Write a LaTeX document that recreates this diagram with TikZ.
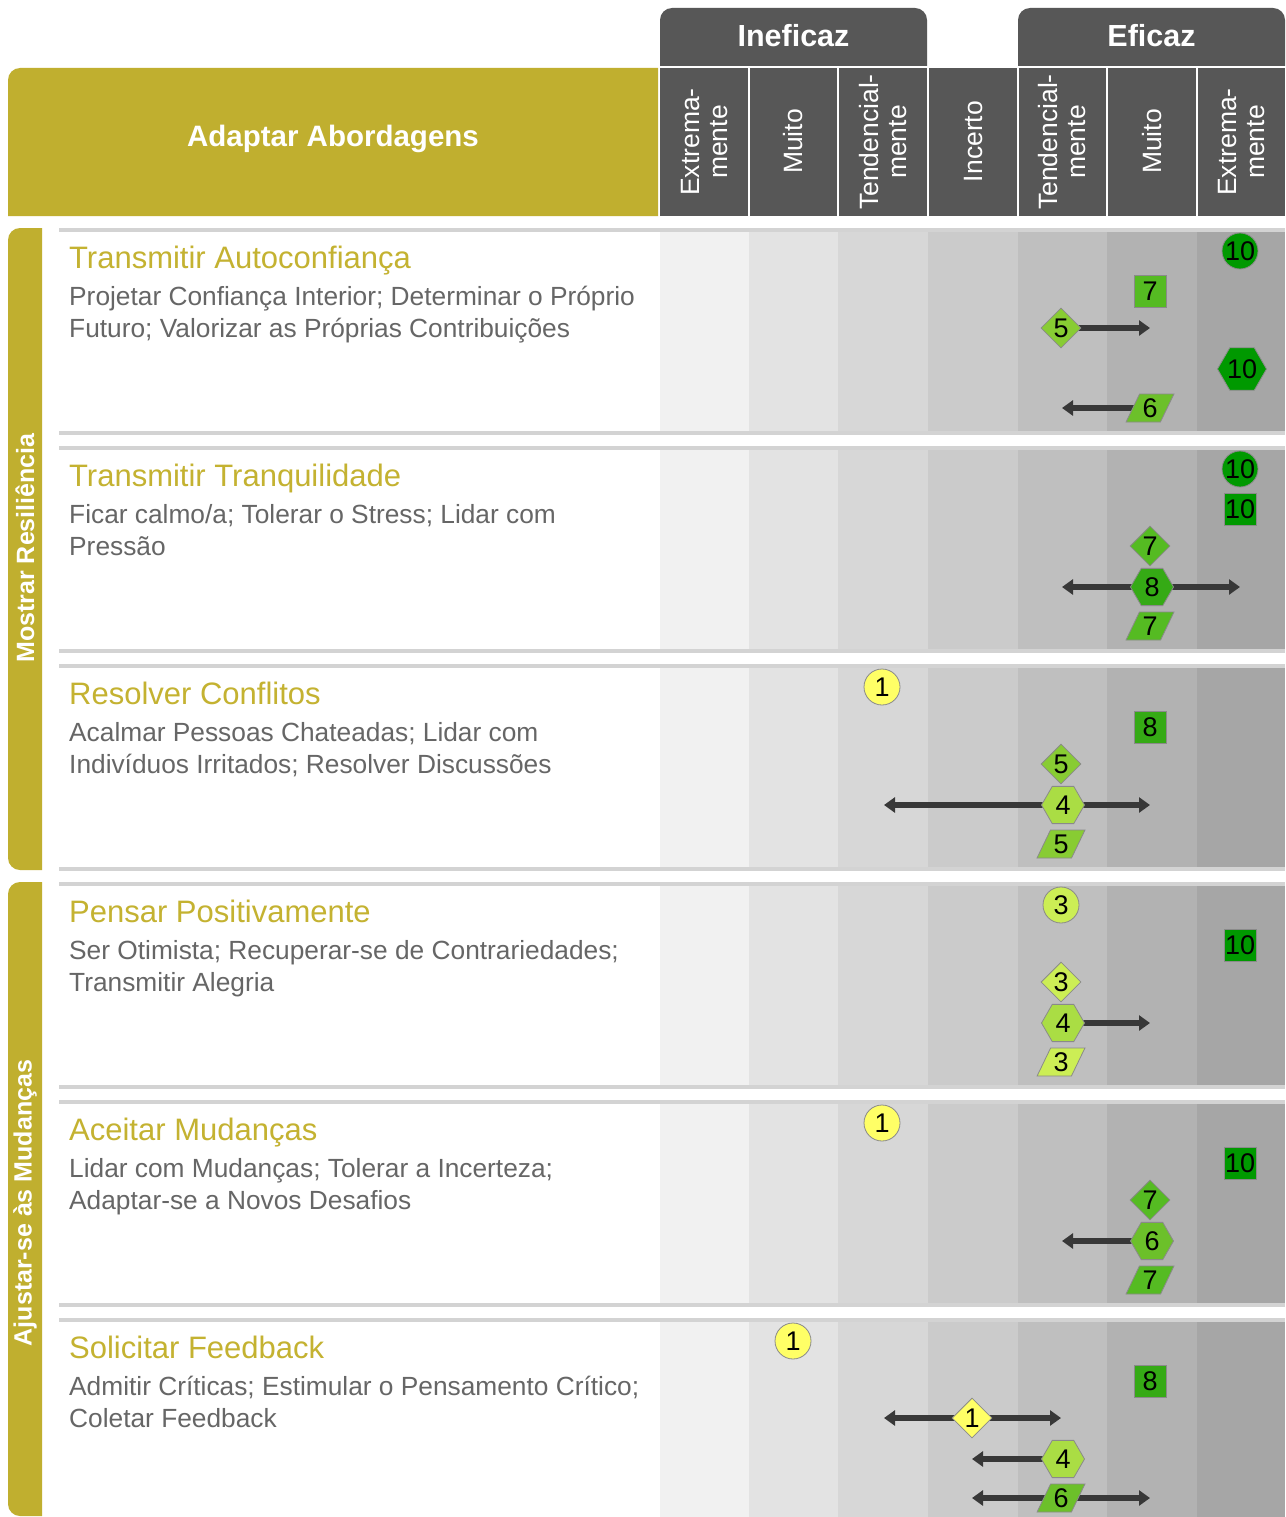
\documentclass[tikz,border=0pt]{standalone}
\usepackage{fontspec}
\setmainfont{Liberation Sans}
\usetikzlibrary{shapes.geometric,arrows.meta}
\pgfdeclarelayer{back}
\pgfdeclarelayer{bg}
\pgfsetlayers{back,bg,main}
\definecolor{gold}{HTML}{C0AF2F}
\definecolor{goldtxt}{HTML}{C4B231}
\definecolor{dark}{HTML}{575757}
\definecolor{subtxt}{HTML}{666666}
\definecolor{sepc}{HTML}{D3D3D3}
\definecolor{cA}{HTML}{F1F1F1}
\definecolor{cB}{HTML}{E3E3E3}
\definecolor{cC}{HTML}{D7D7D7}
\definecolor{cD}{HTML}{CBCBCB}
\definecolor{cE}{HTML}{BFBFBF}
\definecolor{cF}{HTML}{B2B2B2}
\definecolor{cG}{HTML}{A6A6A6}
\definecolor{sA}{HTML}{FFFF66}
\definecolor{sC}{HTML}{CCEE55}
\definecolor{sD}{HTML}{AADD44}
\definecolor{sE}{HTML}{88CC33}
\definecolor{sF}{HTML}{6CC02A}
\definecolor{sG}{HTML}{55BB22}
\definecolor{sH}{HTML}{35AA15}
\definecolor{sJ}{HTML}{009900}
\definecolor{mkb}{HTML}{8A8A8A}
\definecolor{arrc}{HTML}{383838}
\begin{document}
\begin{tikzpicture}[x=1pt,y=-1pt,
  mk/.style={draw=mkb, line width=0.8pt, inner sep=0pt, text=black, font=\fontsize{27}{27}\selectfont},
  circ/.style={mk, circle, minimum size=36pt},
  sqr/.style={mk, rectangle, minimum size=32pt},
  dia/.style={mk, diamond, minimum width=40pt, minimum height=40pt},
  hexa/.style={mk, regular polygon, regular polygon sides=6, minimum size=43pt},
  para/.style={mk, trapezium, trapezium left angle=63, trapezium right angle=117, trapezium stretches=true, minimum width=48pt, minimum height=28pt},
  arr/.style={draw=arrc, line width=5.5pt, -{Triangle[length=11pt,width=15pt]}},
  collab/.style={rotate=90, text=white, align=center, inner sep=0pt, font=\fontsize{26.5}{28}\selectfont},
  tabtxt/.style={text=white, inner sep=0pt, font=\bfseries\fontsize{30.5}{30.5}\selectfont},
  sidetxt/.style={rotate=90, text=white, inner sep=0pt, font=\bfseries\fontsize{25}{25}\selectfont},
  ttl/.style={anchor=base west, inner sep=0pt, text=goldtxt, font=\fontsize{31}{31}\selectfont},
  stl/.style={anchor=base west, inner sep=0pt, text=subtxt, font=\fontsize{26.3}{26.3}\selectfont}]
\useasboundingbox (0,0) rectangle (1285,1517);
\begin{pgfonlayer}{back}
\fill[white] (0,0) rectangle (1285,1517);
% tabs
\fill[dark] (660,66) [rounded corners=12pt] -- (660,8) -- (927,8) [sharp corners] -- (927,66) -- cycle;
\fill[dark] (1018,66) [rounded corners=12pt] -- (1018,8) -- (1285,8) [sharp corners] -- (1285,66) -- cycle;
% gold header
\fill[gold] (8,216) [rounded corners=12pt] -- (8,68) [sharp corners] -- (658,68) -- (658,216) -- cycle;
% column headers
\foreach \xa/\xb in {660/748, 750/837, 839/927, 929/1017, 1019/1106, 1108/1196, 1198/1285}
  \fill[dark] (\xa,68) rectangle (\xb,216);
% rows backgrounds
\foreach \r in {228,446,664,882,1100,1318} {
  \fill[sepc] (59,\r) rectangle (1285,\r+4);
  \foreach \xa/\xb/\c in {660/749/cA, 749/838/cB, 838/928/cC, 928/1018/cD, 1018/1107/cE, 1107/1197/cF, 1197/1285/cG}
    \fill[\c] (\xa,\r+4) rectangle (\xb,\r+203);
  \fill[sepc] (59,\r+203) rectangle (1285,\r+207);
}
% side bars
\fill[gold] (42,228) [rounded corners=12pt] -- (8,228) -- (8,870) [sharp corners] -- (42,870) -- cycle;
\fill[gold] (42,882) [rounded corners=12pt] -- (8,882) -- (8,1516) [sharp corners] -- (42,1516) -- cycle;
\end{pgfonlayer}
\node[tabtxt] (ineficaz) at (793.5,36) {Ineficaz};
\node[tabtxt] (eficaz) at (1151.5,36) {Eficaz};
\node[text=white, inner sep=0pt, font=\bfseries\fontsize{29.5}{29.5}\selectfont] (adapt) at (333,139) {Adaptar Abordagens};
\node[collab] (h1) at (704.5,142) {Extrema-\\mente};
\node[collab] (h2) at (793.5,141.5) {Muito};
\node[collab] (h3) at (883,142) {Tendencial-\\mente};
\node[collab] (h4) at (973,141.5) {Incerto};
\node[collab] (h5) at (1062.5,142) {Tendencial-\\mente};
\node[collab] (h6) at (1152,141.5) {Muito};
\node[collab] (h7) at (1241,142) {Extrema-\\mente};
\node[sidetxt] (side1) at (25,548) {Mostrar Resiliência};
\node[sidetxt] (side2) at (25,1203) {Ajustar-se às Mudanças};
% row texts
\node[ttl] (t1) at (69,268) {Transmitir Autoconfiança};
\node[stl] (t1a) at (69,305) {Projetar Confiança Interior; Determinar o Próprio};
\node[stl] (t1b) at (69,337) {Futuro; Valorizar as Próprias Contribuições};
\node[ttl] (t2) at (69,486) {Transmitir Tranquilidade};
\node[stl] (t2a) at (69,523) {Ficar calmo/a; Tolerar o Stress; Lidar com};
\node[stl] (t2b) at (69,555) {Pressão};
\node[ttl] (t3) at (69,704) {Resolver Conflitos};
\node[stl] (t3a) at (69,741) {Acalmar Pessoas Chateadas; Lidar com};
\node[stl] (t3b) at (69,773) {Indivíduos Irritados; Resolver Discussões};
\node[ttl] (t4) at (69,922) {Pensar Positivamente};
\node[stl] (t4a) at (69,959) {Ser Otimista; Recuperar-se de Contrariedades;};
\node[stl] (t4b) at (69,991) {Transmitir Alegria};
\node[ttl] (t5) at (69,1140) {Aceitar Mudanças};
\node[stl] (t5a) at (69,1177) {Lidar com Mudanças; Tolerar a Incerteza;};
\node[stl] (t5b) at (69,1209) {Adaptar-se a Novos Desafios};
\node[ttl] (t6) at (69,1358) {Solicitar Feedback};
\node[stl] (t6a) at (69,1395) {Admitir Críticas; Estimular o Pensamento Crítico;};
\node[stl] (t6b) at (69,1427) {Coletar Feedback};
% row 1 markers
\node[circ, fill=sJ] (m1c) at (1240,251) {10};
\node[sqr, fill=sG] (m1s) at (1150,291) {7};
\node[dia, fill=sE] (m1d) at (1061,328) {5};
\node[hexa, fill=sJ] (m1h) at (1242,369) {10};
\node[para, fill=sF] (m1p) at (1150,408) {6};
\coordinate (a1d) at (1150,328);
\coordinate (a1p) at (1062,408);
% row 2
\node[circ, fill=sJ] (m2c) at (1240,469) {10};
\node[sqr, fill=sJ] (m2s) at (1240,509) {10};
\node[dia, fill=sG] (m2d) at (1150,546) {7};
\node[hexa, fill=sH] (m2h) at (1152,587) {8};
\node[para, fill=sG] (m2p) at (1150,626) {7};
\coordinate (a2l) at (1062,587);
\coordinate (a2r) at (1240,587);
% row 3
\node[circ, fill=sA] (m3c) at (882,687) {1};
\node[sqr, fill=sH] (m3s) at (1150,727) {8};
\node[dia, fill=sE] (m3d) at (1061,764) {5};
\node[hexa, fill=sD] (m3h) at (1063,805) {4};
\node[para, fill=sE] (m3p) at (1061,844) {5};
\coordinate (a3l) at (884,805);
\coordinate (a3r) at (1150,805);
% row 4
\node[circ, fill=sC] (m4c) at (1061,905) {3};
\node[sqr, fill=sJ] (m4s) at (1240,945) {10};
\node[dia, fill=sC] (m4d) at (1061,982) {3};
\node[hexa, fill=sD] (m4h) at (1063,1023) {4};
\node[para, fill=sC] (m4p) at (1061,1062) {3};
\coordinate (a4r) at (1150,1023);
% row 5
\node[circ, fill=sA] (m5c) at (882,1123) {1};
\node[sqr, fill=sJ] (m5s) at (1240,1163) {10};
\node[dia, fill=sG] (m5d) at (1150,1200) {7};
\node[hexa, fill=sF] (m5h) at (1152,1241) {6};
\node[para, fill=sG] (m5p) at (1150,1280) {7};
\coordinate (a5l) at (1062,1241);
% row 6
\node[circ, fill=sA] (m6c) at (793,1341) {1};
\node[sqr, fill=sH] (m6s) at (1150,1381) {8};
\node[dia, fill=sA] (m6d) at (972,1418) {1};
\node[hexa, fill=sD] (m6h) at (1063,1459) {4};
\node[para, fill=sF] (m6p) at (1061,1498) {6};
\coordinate (a6dl) at (884,1418);
\coordinate (a6dr) at (1061,1418);
\coordinate (a6h) at (972,1459);
\coordinate (a6pl) at (972,1498);
\coordinate (a6pr) at (1150,1498);
% arrows
\begin{pgfonlayer}{bg}
\draw[arr] (m1d.center) -- (a1d);
\draw[arr] (m1p.center) -- (a1p);
\draw[arr] (m2h.center) -- (a2l);
\draw[arr] (m2h.center) -- (a2r);
\draw[arr] (m3h.center) -- (a3l);
\draw[arr] (m3h.center) -- (a3r);
\draw[arr] (m4h.center) -- (a4r);
\draw[arr] (m5h.center) -- (a5l);
\draw[arr] (m6d.center) -- (a6dl);
\draw[arr] (m6d.center) -- (a6dr);
\draw[arr] (m6h.center) -- (a6h);
\draw[arr] (m6p.center) -- (a6pl);
\draw[arr] (m6p.center) -- (a6pr);
\end{pgfonlayer}
\end{tikzpicture}
\end{document}
